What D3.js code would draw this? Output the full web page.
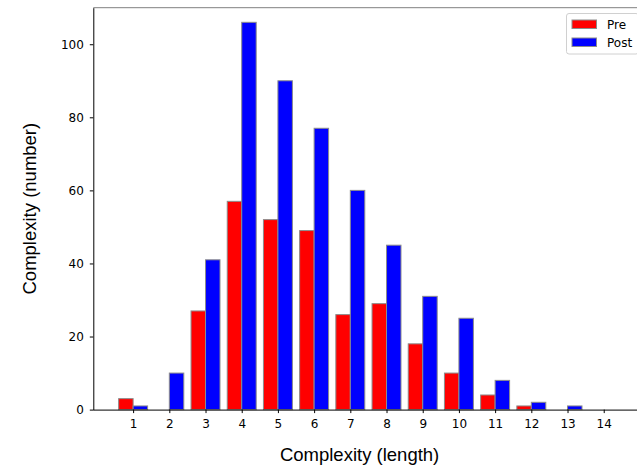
<!DOCTYPE html>
<html>
<head>
<meta charset="utf-8">
<script src="https://cdn.jsdelivr.net/npm/d3@7"></script>
<style>
  body { margin: 0; background: #fff; }
  svg { display: block; }
</style>
</head>
<body>
<svg id="chart" width="637" height="466"></svg>
<script>
// complexity buckets and counts
var lengths = [1, 2, 3, 4, 5, 6, 7, 8, 9, 10, 11, 12, 13, 14]
var pre = [3, 0, 27, 57, 52, 49, 26, 29, 18, 10, 4, 1, 0, 0]
var post = [1, 10, 41, 106, 90, 77, 60, 45, 31, 25, 8, 2, 1, 0]
var yTicks = [0, 20, 40, 60, 80, 100]
var seriesNames = ["Pre", "Post"]
var seriesColors = ["#ff0000", "#0000ff"]

var svg = d3.select("#chart")
// note: "top" is window.top, so plot edges get their own names
var plotLeft = 93.3, plotTop = 7.7, plotBottom = 409.6
var barW = 0.4

var x = d3.scaleLinear().domain([-0.1, 15]).range([plotLeft, plotLeft + 15.1 * 36.2])
var y = d3.scaleLinear().domain([0, 110]).range([plotBottom, plotTop])

var tickFont = "DejaVu Sans, sans-serif"

// bars: pre sits left of the tick, post right of it
var series = [pre, post]
series.forEach(function(vals, s) {
    svg.append("g").selectAll("rect")
        .data(vals)
        .enter().append("rect")
        .attr("x", function(d, i) { return x(lengths[i] - barW + s * barW) })
        .attr("width", x(barW) - x(0))
        .attr("y", function(d) { return y(d) })
        .attr("height", function(d) { return plotBottom - y(d) })
        .attr("fill", seriesColors[s])
        .attr("stroke", "#8c8c8c")
        .attr("stroke-width", 1)
        .attr("stroke-opacity", function(d) { return d > 0 ? 1 : 0 })
})

// top spine (grey)
svg.append("line")
    .attr("x1", plotLeft).attr("x2", 637)
    .attr("y1", plotTop).attr("y2", plotTop)
    .attr("stroke", "#808080").attr("stroke-width", 1)

var xAxis = svg.append("g")
    .attr("transform", "translate(0," + plotBottom + ")")
    .call(d3.axisBottom(x).tickValues(lengths).tickSize(3.5).tickPadding(6).tickSizeOuter(0))
xAxis.select(".domain").attr("d", "M" + plotLeft + ",0.5H637").attr("stroke", "#000")
xAxis.selectAll("text").attr("font-family", tickFont).attr("font-size", "12px").attr("fill", "#000")

var yAxis = svg.append("g")
    .attr("transform", "translate(" + plotLeft + ",0)")
    .call(d3.axisLeft(y).tickValues(yTicks).tickSize(3.5).tickPadding(6).tickSizeOuter(0))
yAxis.select(".domain").attr("stroke", "#000")
yAxis.selectAll("text").attr("font-family", tickFont).attr("font-size", "12px").attr("fill", "#000")

// axis labels
svg.append("text")
    .attr("x", 359.6).attr("y", 460.5)
    .attr("text-anchor", "middle")
    .attr("font-family", "Liberation Sans, Arial, sans-serif")
    .attr("font-size", "18.5px")
    .text("Complexity (length)")

svg.append("text")
    .attr("transform", "translate(36," + ((plotTop + plotBottom) / 2) + ") rotate(-90)")
    .attr("text-anchor", "middle")
    .attr("font-family", "Liberation Sans, Arial, sans-serif")
    .attr("font-size", "18.5px")
    .text("Complexity (number)")

// legend
var lg = svg.append("g").attr("transform", "translate(566.5,13.5)")
lg.append("rect")
    .attr("width", 72).attr("height", 40.5)
    .attr("rx", 2.5)
    .attr("fill", "#fff").attr("fill-opacity", 0.8)
    .attr("stroke", "#d0d0d0")
seriesNames.forEach(function(name, i) {
    lg.append("rect")
        .attr("x", 5.5).attr("y", 6.5 + i * 18)
        .attr("width", 24.5).attr("height", 8.5)
        .attr("fill", seriesColors[i])
        .attr("stroke", "#8c8c8c")
    lg.append("text")
        .attr("x", 40.5).attr("y", 15 + i * 18)
        .attr("font-family", tickFont).attr("font-size", "12px")
        .text(name)
})
</script>
</body>
</html>
